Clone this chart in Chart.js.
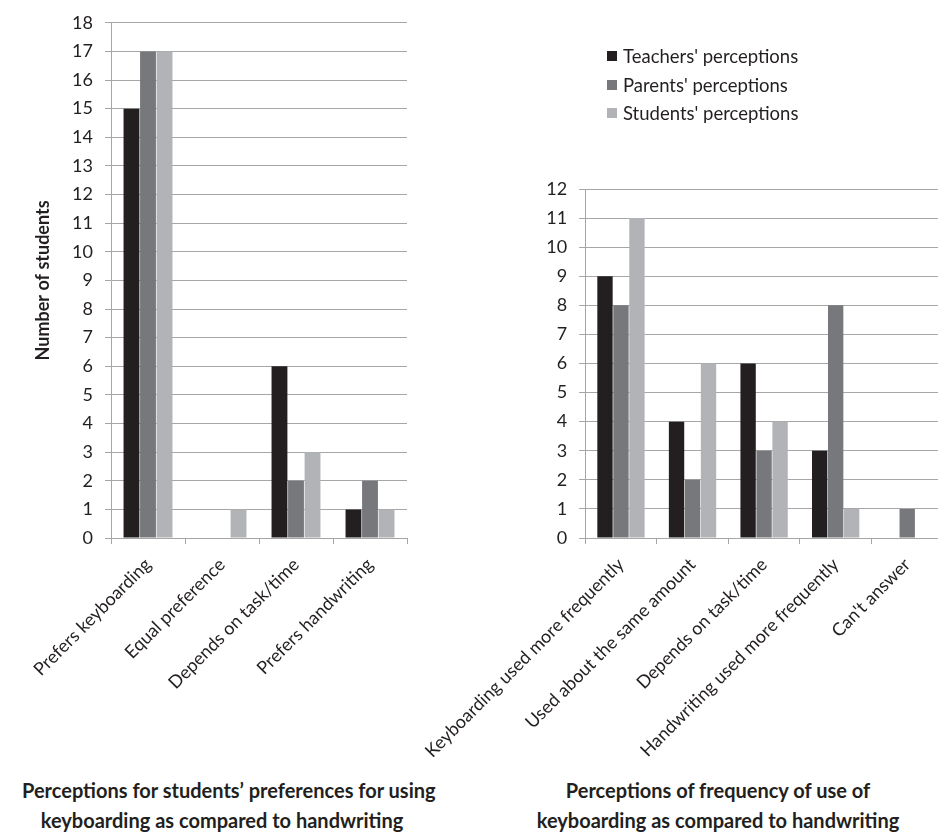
<!DOCTYPE html>
<html>
<head>
<meta charset="utf-8">
<script src="https://cdn.jsdelivr.net/npm/chart.js@4.4.0/dist/chart.umd.min.js"></script>
<style>
    html, body { margin: 0; padding: 0; background: #fff; overflow: hidden; }
    body { width: 938px; height: 834px; position: relative; font-family: Lato, "Open Sans", sans-serif; color: #231f20; }
    canvas { position: absolute; }
    #leftChart { left: 0; top: 0; }
    #rightChart { left: 400px; top: 0; }
    .title { position: absolute; font-weight: bold; font-size: 20px; line-height: 30px; text-align: center; white-space: nowrap; }
    #leftTitle { left: 22px; width: 400px; top: 775px; }
    #rightTitle { left: 518px; width: 400px; top: 775px; }
    #legend { position: absolute; left: 607px; top: 42px; font-size: 18.5px; }
    #legend div { height: 28.5px; display: flex; align-items: center; }
    #legend span.box { width: 10px; height: 10px; margin-right: 6px; display: inline-block; }
</style>
</head>
<body>
<canvas id="leftChart"></canvas>
<canvas id="rightChart"></canvas>
<div id="legend"></div>
<div class="title" id="leftTitle">Perceptions for students’ preferences for using<br>keyboarding as compared to handwriting</div>
<div class="title" id="rightTitle">Perceptions of frequency of use of<br>keyboarding as compared to handwriting</div>
<script>
// Series names and colours
const seriesNames = ["Teachers' perceptions", "Parents' perceptions", "Students' perceptions"];
const seriesColors = ['#231f20', '#77787b', '#b1b3b6'];

// Left chart: preferences
const prefCategories = ['Prefers keyboarding', 'Equal preference', 'Depends on task/time', 'Prefers handwriting'];
const prefTeachers = [15, 0, 6, 1];
const prefParents = [17, 0, 2, 2];
const prefStudents = [17, 1, 3, 1];

// Right chart: frequency of use
const freqCategories = ['Keyboarding used more frequently', 'Used about the same amount', 'Depends on task/time', 'Handwriting used more frequently', "Can't answer"];
const freqTeachers = [9, 4, 6, 3, 0];
const freqParents = [8, 2, 3, 8, 1];
const freqStudents = [11, 6, 4, 1, 0];

const FONT = 'Lato, "Open Sans", sans-serif';
const TEXT = '#231f20';
const GRID = '#a6a6a6';

function buildDatasets(values) {
    return values.map((data, i) => ({
        label: seriesNames[i],
        data: data,
        backgroundColor: seriesColors[i],
        borderWidth: 0,
        categoryPercentage: 0.67,
        barPercentage: 0.96
    }));
}

function setupCanvas(id, w, h) {
    const canvas = document.getElementById(id);
    canvas.width = w;
    canvas.height = h;
    canvas.style.width = w + 'px';
    canvas.style.height = h + 'px';
    return canvas.getContext('2d');
}

function makeChart(ctx, labels, datasets, opts) {
    return new Chart(ctx, {
        type: 'bar',
        data: { labels: labels, datasets: datasets },
        options: {
            responsive: false,
            animation: false,
            layout: { padding: { top: opts.top, right: opts.right, bottom: 0, left: 0 } },
            plugins: {
                legend: { display: false },
                tooltip: { enabled: false }
            },
            scales: {
                x: {
                    grid: { display: true, drawOnChartArea: false, drawTicks: true, tickLength: 6, color: GRID, offset: true },
                    border: { color: GRID, width: 1 },
                    ticks: {
                        color: TEXT, font: { family: FONT, size: 18 },
                        minRotation: 45, maxRotation: 45, autoSkip: false, padding: 10
                    },
                    afterFit: scale => { scale.height = opts.xHeight; }
                },
                y: {
                    min: 0,
                    max: opts.max,
                    grid: { color: GRID, lineWidth: 1, tickLength: 6 },
                    border: { color: GRID, width: 1 },
                    ticks: { stepSize: 1, color: TEXT, font: { family: FONT, size: 18 }, padding: 12 },
                    title: opts.yTitle ? {
                        display: true, text: opts.yTitle, color: TEXT,
                        font: { family: FONT, size: 18, weight: 'bold' },
                        padding: { top: 32, bottom: 0 }
                    } : { display: false },
                    afterFit: scale => { scale.width = opts.yWidth; }
                }
            }
        }
    });
}

// Left chart
makeChart(setupCanvas('leftChart', 420, 760), prefCategories,
    buildDatasets([prefTeachers, prefParents, prefStudents]),
    { max: 18, top: 15, right: 13, xHeight: 222, yWidth: 111, yTitle: 'Number of students' });

// Right chart
makeChart(setupCanvas('rightChart', 550, 760), freqCategories,
    buildDatasets([freqTeachers, freqParents, freqStudents]),
    { max: 12, top: 189, right: 7, xHeight: 222, yWidth: 183 });

// Legend
document.getElementById('legend').innerHTML = seriesNames.map((name, i) =>
    `<div><span class="box" style="background:${seriesColors[i]}"></span>${name}</div>`).join('');
</script>
</body>
</html>
